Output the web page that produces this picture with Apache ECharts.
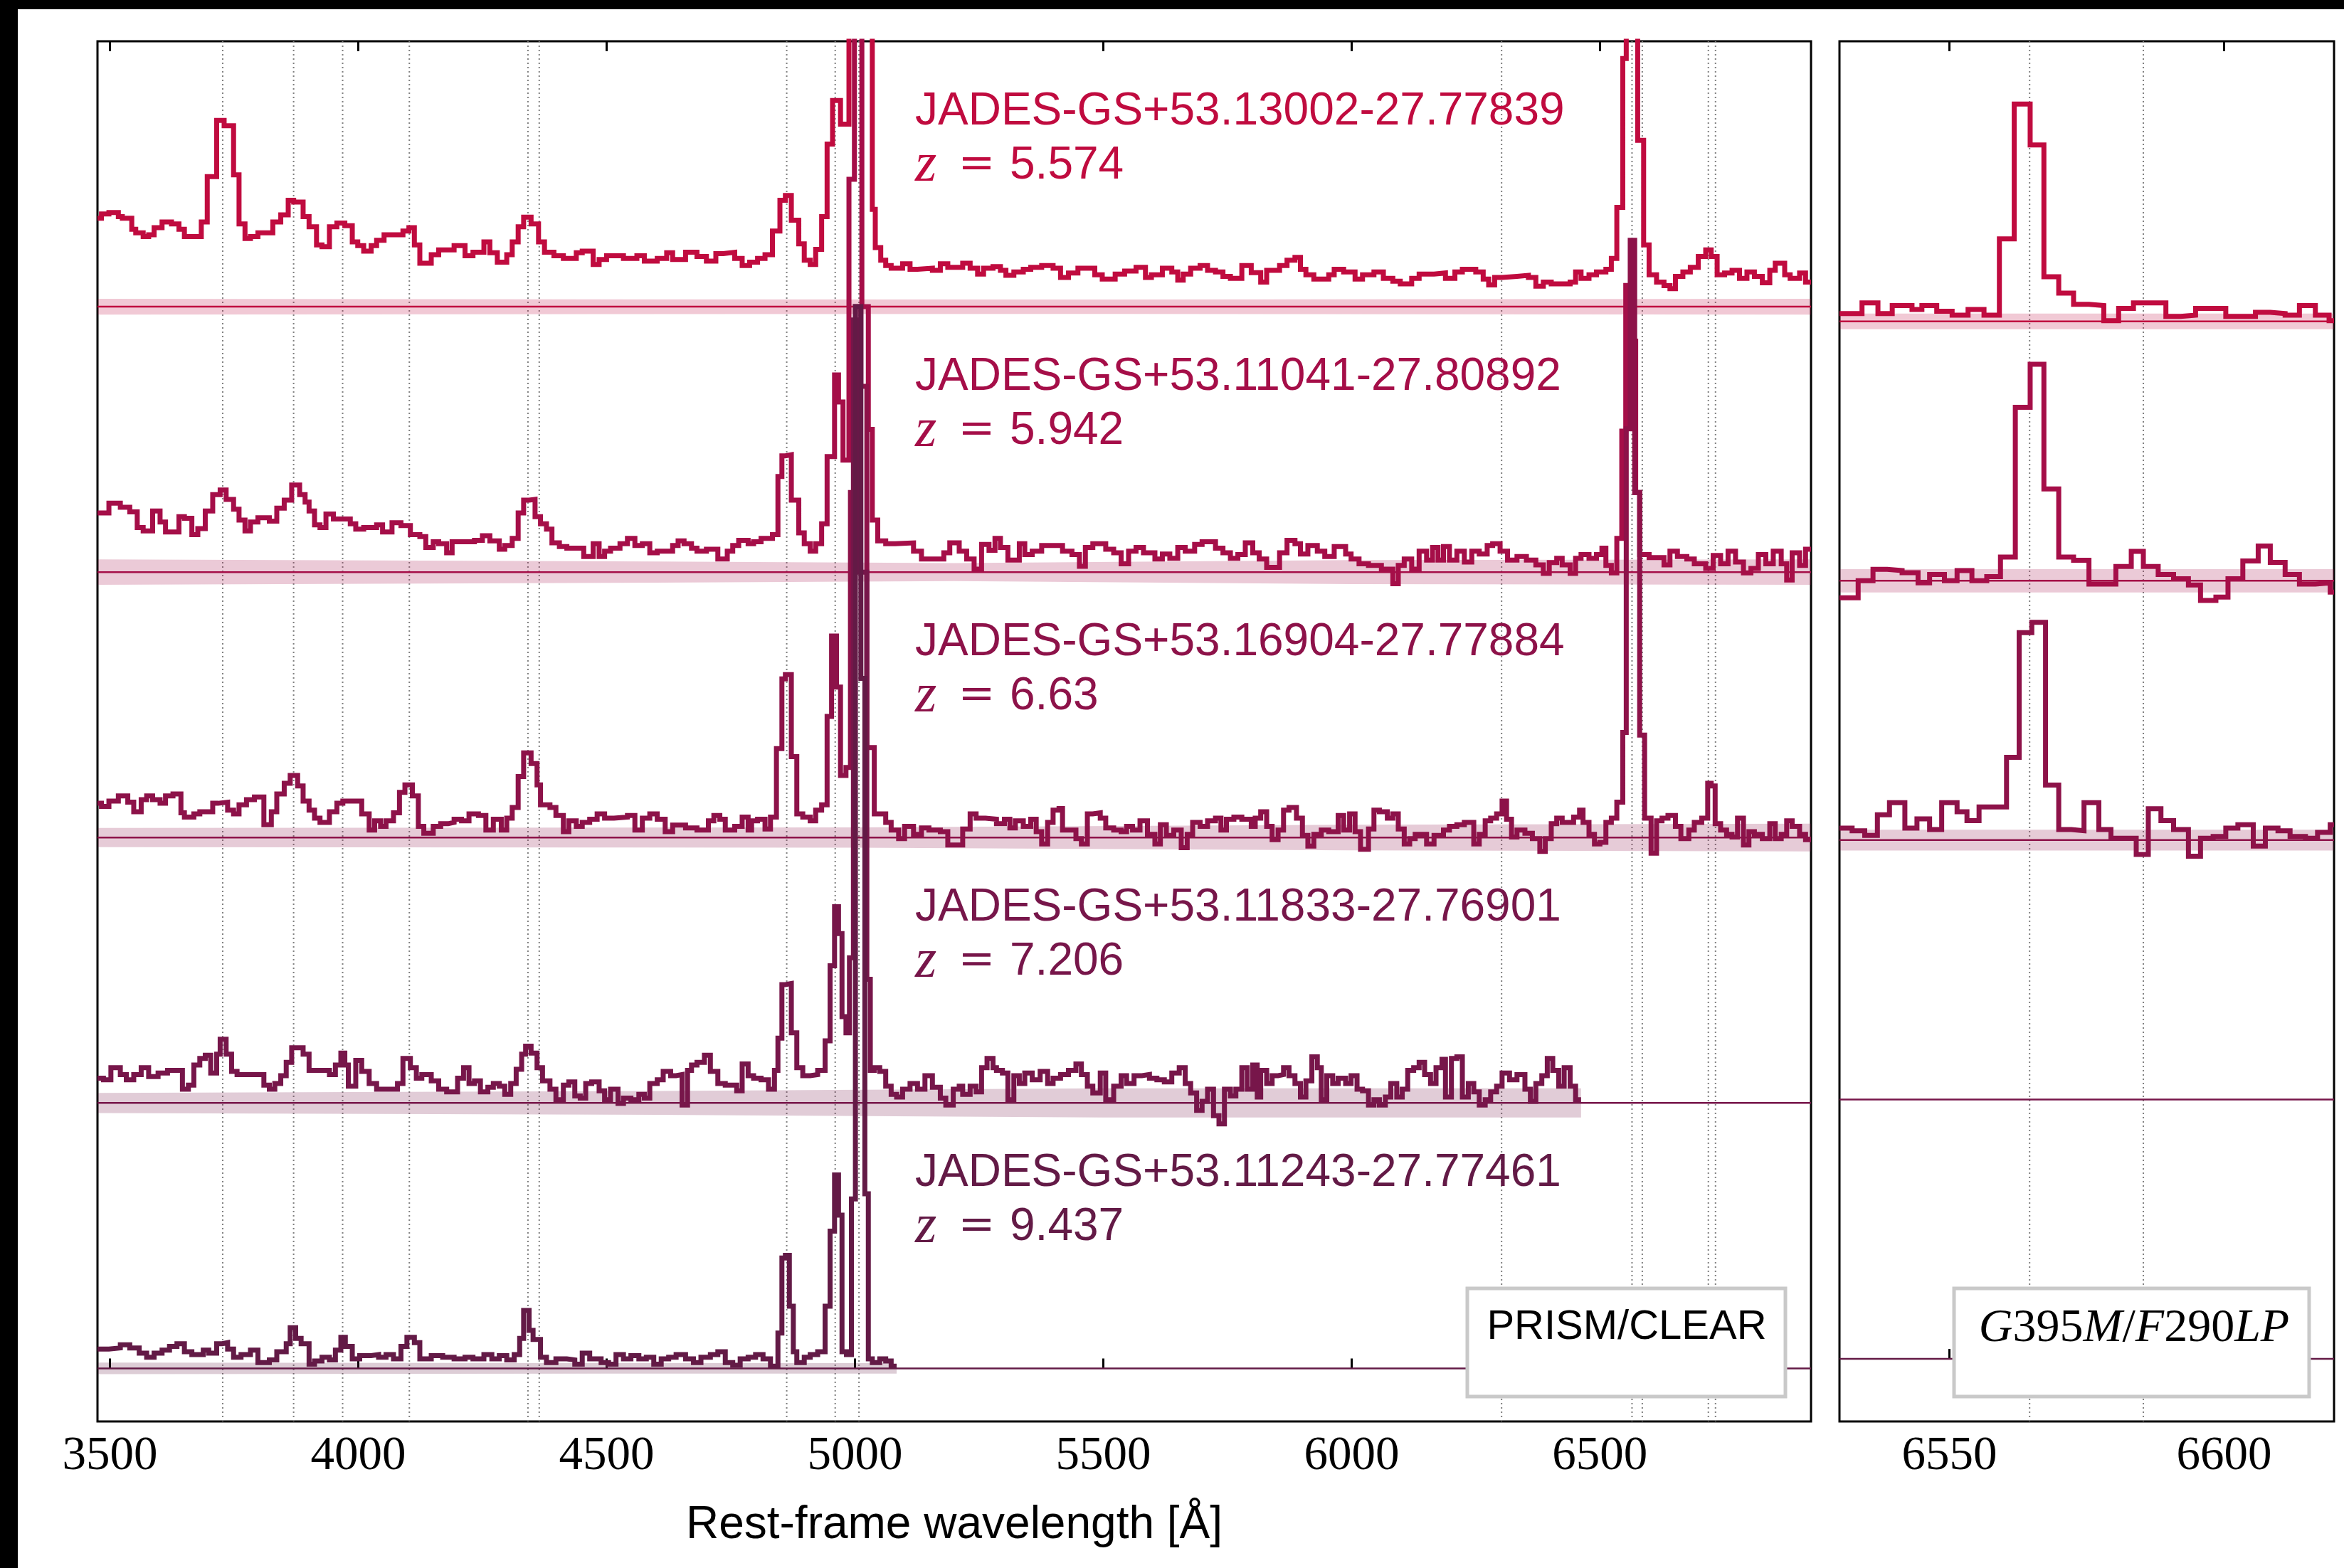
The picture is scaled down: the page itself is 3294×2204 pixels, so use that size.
<!DOCTYPE html>
<html>
<head>
<meta charset="utf-8">
<script src="https://cdn.jsdelivr.net/npm/echarts@6/dist/echarts.min.js"></script>
<style>
  html, body { margin: 0; padding: 0; background: #fff; }
  #chart { width: 3294px; height: 2204px; }
</style>
</head>
<body>
<div id="chart"></div>
<script>
// ---------------- data ----------------
// Object names and redshifts, top to bottom
const objectIds = [
  'JADES-GS+53.13002-27.77839',
  'JADES-GS+53.11041-27.80892',
  'JADES-GS+53.16904-27.77884',
  'JADES-GS+53.11833-27.76901',
  'JADES-GS+53.11243-27.77461'
];
const redshifts = ['5.574', '5.942', '6.63', '7.206', '9.437'];
// vertical offset of each normalised spectrum
const offsets = [4, 3, 2, 1, 0];

const mainTicks = [3500, 4000, 4500, 5000, 5500, 6000, 6500];
const sideTicks = [6550, 6600];

// rest-frame line positions [Å]
const prismLines = [3727.1, 3869.9, 3968.6, 4102.9, 4341.7, 4364.4, 4862.7, 4960.3, 5008.2,
                    6302.0, 6564.6, 6585.3, 6718.3, 6732.7];
const gratingLines = [6564.6, 6585.3];

// PRISM/CLEAR spectra: [left bin edge in Å, normalised flux]
const prismA = [[3475,0.333],[3483,0.349],[3498,0.355],[3517,0.339],[3525,0.333],[3544,0.292],[3552,0.278],[3567,0.264],[3578,0.271],[3589,0.298],[3605,0.319],[3624,0.312],[3639,0.292],[3650,0.264],[3684,0.319],[3696,0.490],[3715,0.702],[3730,0.682],[3749,0.497],[3760,0.312],[3772,0.257],[3783,0.264],[3798,0.278],[3828,0.319],[3844,0.346],[3859,0.401],[3870,0.394],[3889,0.339],[3901,0.301],[3916,0.233],[3927,0.226],[3942,0.301],[3957,0.315],[3973,0.305],[3988,0.244],[3999,0.230],[4011,0.209],[4026,0.230],[4037,0.250],[4052,0.271],[4090,0.285],[4102,0.298],[4113,0.233],[4124,0.164],[4147,0.196],[4162,0.214],[4193,0.230],[4215,0.192],[4231,0.205],[4253,0.244],[4265,0.203],[4280,0.168],[4299,0.196],[4310,0.244],[4322,0.301],[4333,0.337],[4348,0.312],[4363,0.244],[4375,0.205],[4394,0.192],[4413,0.182],[4439,0.203],[4451,0.209],[4473,0.159],[4485,0.178],[4500,0.192],[4534,0.182],[4561,0.192],[4576,0.172],[4602,0.182],[4621,0.203],[4633,0.178],[4659,0.205],[4682,0.189],[4701,0.172],[4720,0.200],[4735,0.205],[4758,0.182],[4773,0.155],[4788,0.168],[4804,0.182],[4819,0.196],[4834,0.285],[4849,0.401],[4860,0.419],[4872,0.326],[4887,0.237],[4898,0.175],[4910,0.159],[4921,0.216],[4933,0.339],[4944,0.613],[4955,0.777],[4971,0.688],[4988,1.8],[5001,3.0],[5016,2.0],[5035,0.367],[5041,0.223],[5052,0.175],[5062,0.155],[5073,0.145],[5096,0.162],[5111,0.141],[5126,0.145],[5156,0.137],[5172,0.162],[5187,0.148],[5217,0.164],[5232,0.145],[5247,0.123],[5259,0.145],[5278,0.151],[5293,0.137],[5304,0.118],[5320,0.131],[5339,0.141],[5354,0.148],[5376,0.155],[5399,0.145],[5414,0.110],[5430,0.127],[5449,0.145],[5483,0.120],[5498,0.104],[5524,0.123],[5543,0.134],[5566,0.148],[5585,0.110],[5597,0.120],[5619,0.145],[5638,0.131],[5650,0.100],[5661,0.123],[5676,0.145],[5695,0.155],[5710,0.137],[5726,0.131],[5741,0.114],[5756,0.107],[5779,0.155],[5798,0.128],[5817,0.093],[5829,0.137],[5855,0.155],[5870,0.175],[5886,0.186],[5897,0.141],[5908,0.120],[5924,0.104],[5954,0.120],[5965,0.141],[5984,0.131],[6007,0.104],[6022,0.120],[6045,0.131],[6064,0.107],[6083,0.096],[6098,0.086],[6121,0.107],[6136,0.123],[6166,0.127],[6189,0.107],[6208,0.131],[6223,0.141],[6250,0.131],[6265,0.104],[6276,0.082],[6288,0.110],[6303,0.114],[6333,0.118],[6356,0.110],[6371,0.077],[6386,0.093],[6402,0.086],[6440,0.093],[6451,0.131],[6462,0.107],[6478,0.120],[6493,0.131],[6512,0.141],[6523,0.182],[6534,0.374],[6546,0.935],[6553,3.0],[6565,2.5],[6576,0.627],[6588,0.233],[6599,0.120],[6614,0.093],[6629,0.079],[6641,0.068],[6652,0.114],[6667,0.131],[6682,0.148],[6698,0.189],[6713,0.214],[6724,0.189],[6736,0.120],[6751,0.127],[6766,0.137],[6781,0.107],[6796,0.131],[6811,0.114],[6827,0.090],[6842,0.137],[6853,0.164],[6872,0.120],[6883,0.107],[6902,0.127],[6914,0.093],[6925,0.093]];

const prismB = [[3475,0.223],[3498,0.260],[3521,0.244],[3540,0.227],[3555,0.168],[3567,0.155],[3586,0.230],[3601,0.189],[3612,0.151],[3639,0.209],[3650,0.203],[3665,0.141],[3677,0.164],[3692,0.230],[3707,0.292],[3722,0.309],[3734,0.274],[3749,0.237],[3760,0.196],[3772,0.155],[3783,0.189],[3798,0.205],[3821,0.192],[3836,0.241],[3851,0.271],[3866,0.328],[3882,0.292],[3893,0.264],[3901,0.230],[3912,0.178],[3923,0.168],[3935,0.219],[3950,0.200],[3984,0.182],[3995,0.162],[4011,0.168],[4037,0.178],[4049,0.151],[4068,0.186],[4086,0.175],[4105,0.141],[4124,0.134],[4136,0.093],[4151,0.114],[4162,0.107],[4178,0.073],[4189,0.114],[4234,0.120],[4250,0.137],[4265,0.118],[4284,0.086],[4295,0.100],[4310,0.127],[4322,0.223],[4333,0.271],[4344,0.274],[4356,0.209],[4367,0.182],[4379,0.162],[4390,0.110],[4405,0.096],[4420,0.090],[4454,0.059],[4473,0.107],[4485,0.059],[4496,0.079],[4508,0.090],[4527,0.107],[4542,0.127],[4557,0.100],[4572,0.107],[4587,0.073],[4602,0.079],[4633,0.100],[4644,0.118],[4656,0.107],[4671,0.090],[4682,0.079],[4701,0.086],[4724,0.049],[4743,0.079],[4754,0.100],[4766,0.120],[4785,0.107],[4796,0.114],[4811,0.127],[4834,0.141],[4845,0.360],[4853,0.438],[4860,0.442],[4872,0.271],[4887,0.148],[4898,0.107],[4910,0.079],[4921,0.107],[4933,0.182],[4944,0.435],[4959,0.743],[4967,0.641],[4976,0.422],[4988,1.48],[4999,2.4],[5014,1.0],[5027,0.538],[5035,0.196],[5046,0.118],[5062,0.107],[5081,0.110],[5118,0.079],[5134,0.049],[5179,0.073],[5191,0.110],[5210,0.079],[5225,0.049],[5240,0.011],[5255,0.104],[5270,0.082],[5282,0.127],[5293,0.093],[5308,0.045],[5331,0.107],[5342,0.066],[5357,0.079],[5376,0.100],[5418,0.079],[5437,0.066],[5452,0.022],[5464,0.093],[5479,0.107],[5505,0.086],[5521,0.073],[5536,0.031],[5551,0.079],[5566,0.093],[5581,0.073],[5604,0.049],[5619,0.068],[5634,0.052],[5650,0.093],[5665,0.079],[5684,0.104],[5699,0.114],[5726,0.090],[5741,0.073],[5756,0.052],[5771,0.066],[5786,0.110],[5801,0.073],[5814,0.049],[5829,0.018],[5855,0.073],[5870,0.120],[5886,0.107],[5897,0.068],[5912,0.100],[5931,0.079],[5946,0.059],[5965,0.096],[5988,0.068],[5999,0.049],[6015,0.031],[6034,0.025],[6060,0.011],[6083,-0.044],[6094,0.025],[6106,0.049],[6121,0.011],[6136,0.079],[6151,0.045],[6163,0.093],[6174,0.045],[6185,0.096],[6197,0.045],[6212,0.079],[6227,0.038],[6242,0.079],[6257,0.068],[6273,0.100],[6284,0.107],[6299,0.079],[6314,0.045],[6333,0.059],[6352,0.045],[6371,0.027],[6386,-0.005],[6398,0.036],[6413,0.052],[6424,0.027],[6440,-0.005],[6451,0.052],[6462,0.066],[6478,0.052],[6493,0.066],[6504,0.090],[6512,0.025],[6523,-0.003],[6534,0.127],[6544,0.531],[6552,1.08],[6561,0.87],[6572,0.30],[6580,0.066],[6599,0.055],[6629,0.027],[6641,0.079],[6656,0.059],[6675,0.049],[6690,0.031],[6713,0.014],[6728,0.063],[6743,0.031],[6758,0.079],[6773,0.038],[6789,-0.003],[6804,0.014],[6819,0.066],[6834,0.031],[6849,0.079],[6865,0.031],[6876,-0.030],[6887,0.073],[6902,0.025],[6914,0.086],[6925,0.086]];

const prismC = [[3475,0.129],[3483,0.117],[3498,0.137],[3517,0.157],[3536,0.133],[3548,0.097],[3563,0.143],[3574,0.157],[3586,0.143],[3601,0.129],[3612,0.157],[3627,0.164],[3643,0.093],[3650,0.077],[3669,0.089],[3681,0.097],[3707,0.129],[3718,0.133],[3737,0.103],[3749,0.089],[3760,0.123],[3775,0.143],[3791,0.153],[3810,0.048],[3825,0.097],[3836,0.164],[3851,0.204],[3863,0.234],[3878,0.194],[3889,0.137],[3901,0.103],[3912,0.073],[3923,0.057],[3942,0.097],[3957,0.129],[3969,0.137],[4007,0.089],[4022,0.028],[4033,0.063],[4045,0.042],[4056,0.063],[4071,0.093],[4083,0.170],[4094,0.198],[4109,0.157],[4121,0.042],[4132,0.016],[4151,0.042],[4166,0.052],[4181,0.057],[4193,0.069],[4208,0.063],[4223,0.089],[4242,0.083],[4257,0.028],[4272,0.069],[4288,0.028],[4299,0.073],[4310,0.113],[4322,0.230],[4333,0.319],[4348,0.279],[4360,0.198],[4367,0.123],[4386,0.113],[4398,0.083],[4413,0.022],[4424,0.063],[4439,0.042],[4451,0.057],[4466,0.069],[4481,0.089],[4496,0.073],[4515,0.077],[4542,0.083],[4557,0.028],[4572,0.073],[4587,0.089],[4602,0.069],[4618,0.022],[4633,0.047],[4659,0.036],[4682,0.028],[4705,0.063],[4716,0.083],[4728,0.069],[4739,0.028],[4758,0.042],[4773,0.077],[4785,0.028],[4792,0.063],[4804,0.069],[4819,0.032],[4830,0.077],[4842,0.335],[4853,0.598],[4860,0.614],[4872,0.305],[4883,0.089],[4895,0.077],[4910,0.063],[4921,0.103],[4933,0.123],[4944,0.456],[4953,0.759],[4963,0.567],[4971,0.234],[4982,0.264],[4991,1.3],[5001,2.0],[5012,1.7],[5024,0.339],[5039,0.089],[5062,0.057],[5073,0.028],[5088,-0.004],[5100,0.042],[5118,0.012],[5134,0.036],[5149,0.028],[5172,0.022],[5187,-0.028],[5217,0.032],[5232,0.089],[5244,0.073],[5263,0.069],[5285,0.052],[5301,0.069],[5312,0.036],[5323,0.063],[5339,0.042],[5354,0.069],[5365,0.022],[5376,-0.024],[5388,0.057],[5399,0.103],[5411,0.109],[5418,0.028],[5445,-0.004],[5456,-0.024],[5468,0.089],[5479,0.093],[5494,0.073],[5505,0.036],[5521,0.028],[5536,0.022],[5547,0.042],[5559,0.028],[5574,0.063],[5589,0.012],[5604,-0.024],[5615,0.048],[5627,0.008],[5642,0.028],[5657,-0.038],[5669,0.012],[5680,0.057],[5695,0.042],[5710,0.063],[5726,0.073],[5737,0.028],[5748,0.069],[5763,0.077],[5779,0.069],[5798,0.042],[5806,0.073],[5817,0.097],[5829,0.042],[5840,-0.008],[5852,0.028],[5863,0.103],[5874,0.113],[5889,0.073],[5901,0.008],[5912,-0.032],[5924,0.012],[5939,0.028],[5954,0.022],[5973,0.083],[5984,0.028],[5996,0.089],[6007,0.022],[6018,-0.044],[6034,0.032],[6045,0.103],[6056,0.097],[6072,0.073],[6083,0.089],[6094,0.032],[6106,-0.024],[6117,-0.004],[6128,0.012],[6151,-0.024],[6166,0.008],[6185,0.028],[6197,0.042],[6212,0.048],[6227,0.057],[6246,-0.024],[6257,0.012],[6269,0.063],[6280,0.073],[6292,0.089],[6303,0.137],[6312,0.069],[6322,0.002],[6333,0.028],[6349,0.016],[6364,-0.004],[6379,-0.052],[6390,-0.004],[6402,0.052],[6413,0.073],[6424,0.057],[6447,0.077],[6459,0.103],[6466,0.057],[6478,0.012],[6489,-0.024],[6500,-0.018],[6512,0.057],[6523,0.073],[6534,0.133],[6546,0.396],[6553,1.54],[6561,2.25],[6570,1.30],[6580,0.386],[6590,0.073],[6603,-0.059],[6614,0.063],[6625,0.073],[6637,0.083],[6652,0.042],[6663,-0.004],[6679,0.028],[6690,0.057],[6705,0.073],[6717,0.204],[6724,0.194],[6732,0.052],[6743,0.028],[6755,0.012],[6766,0.002],[6777,0.073],[6789,-0.028],[6800,0.022],[6811,0.012],[6827,-0.004],[6842,0.052],[6853,-0.004],[6865,0.012],[6876,0.063],[6887,0.042],[6902,0.012],[6914,-0.008],[6925,-0.008]];

const prismD = [[3475,0.093],[3487,0.087],[3502,0.133],[3521,0.107],[3533,0.087],[3548,0.107],[3563,0.133],[3578,0.099],[3597,0.113],[3616,0.123],[3646,0.052],[3658,0.067],[3669,0.143],[3681,0.168],[3692,0.180],[3703,0.113],[3715,0.184],[3722,0.240],[3734,0.184],[3745,0.119],[3756,0.107],[3810,0.067],[3821,0.052],[3832,0.073],[3844,0.103],[3855,0.153],[3866,0.208],[3889,0.184],[3901,0.123],[3942,0.107],[3954,0.143],[3965,0.188],[3973,0.143],[3980,0.063],[3995,0.160],[4007,0.119],[4022,0.073],[4037,0.052],[4079,0.073],[4090,0.168],[4105,0.133],[4117,0.093],[4128,0.107],[4147,0.083],[4162,0.052],[4178,0.042],[4200,0.093],[4212,0.133],[4223,0.073],[4234,0.083],[4246,0.042],[4261,0.059],[4272,0.073],[4284,0.063],[4295,0.032],[4307,0.073],[4318,0.127],[4329,0.184],[4337,0.214],[4348,0.188],[4360,0.133],[4371,0.083],[4386,0.052],[4398,0.012],[4413,0.067],[4424,0.079],[4436,0.026],[4447,0.018],[4458,0.073],[4470,0.079],[4485,0.046],[4496,0.012],[4508,0.052],[4523,-0.002],[4534,0.018],[4549,0.012],[4565,0.032],[4576,0.018],[4587,0.073],[4602,0.087],[4614,0.119],[4629,0.103],[4640,0.107],[4652,-0.008],[4663,0.123],[4671,0.143],[4682,0.153],[4697,0.180],[4709,0.119],[4724,0.073],[4739,0.067],[4762,0.046],[4773,0.147],[4785,0.103],[4796,0.093],[4811,0.087],[4826,0.052],[4838,0.123],[4845,0.244],[4853,0.446],[4860,0.450],[4872,0.264],[4883,0.133],[4895,0.103],[4910,0.107],[4925,0.123],[4940,0.234],[4950,0.517],[4959,0.739],[4967,0.638],[4974,0.325],[4982,0.264],[4989,0.547],[4997,2.95],[5008,2.0],[5024,0.466],[5031,0.123],[5039,0.133],[5050,0.119],[5062,0.063],[5073,0.032],[5084,0.022],[5096,0.052],[5111,0.073],[5126,0.052],[5141,0.103],[5156,0.059],[5172,0.018],[5183,-0.008],[5198,0.052],[5210,0.063],[5217,0.032],[5232,0.063],[5244,0.042],[5255,0.133],[5266,0.168],[5278,0.133],[5285,0.123],[5297,0.113],[5308,0.012],[5320,0.103],[5331,0.073],[5342,0.113],[5357,0.087],[5373,0.119],[5388,0.073],[5399,0.093],[5414,0.107],[5430,0.123],[5445,0.147],[5456,0.107],[5468,0.063],[5479,0.038],[5494,0.113],[5505,0.012],[5521,0.063],[5536,0.103],[5547,0.073],[5562,0.103],[5578,0.107],[5593,0.093],[5608,0.087],[5623,0.079],[5638,0.113],[5653,0.133],[5665,0.073],[5676,0.038],[5688,-0.028],[5699,0.006],[5710,0.052],[5722,-0.048],[5733,-0.079],[5744,0.052],[5756,0.026],[5767,0.052],[5779,0.133],[5790,0.052],[5801,0.143],[5810,0.022],[5817,0.123],[5829,0.073],[5840,0.103],[5852,0.107],[5863,0.133],[5874,0.103],[5886,0.073],[5897,0.022],[5908,0.083],[5920,0.174],[5931,0.133],[5939,0.012],[5950,0.103],[5962,0.073],[5973,0.093],[5988,0.073],[5999,0.103],[6011,0.052],[6022,0.046],[6034,-0.008],[6045,0.012],[6056,-0.008],[6068,0.022],[6079,0.073],[6091,0.022],[6102,0.052],[6113,0.123],[6125,0.133],[6136,0.153],[6147,0.107],[6159,0.073],[6170,0.133],[6182,0.164],[6189,0.022],[6201,0.168],[6212,0.174],[6223,0.022],[6235,0.073],[6246,0.042],[6257,-0.008],[6269,0.012],[6280,0.042],[6292,0.063],[6303,0.113],[6318,0.087],[6333,0.107],[6349,0.052],[6360,0.006],[6371,0.073],[6383,0.103],[6394,0.168],[6405,0.123],[6417,0.063],[6428,0.133],[6440,0.063],[6451,0.012],[6462,0.012]];

const prismE = [[3475,0.073],[3498,0.077],[3521,0.089],[3540,0.077],[3559,0.057],[3574,0.042],[3589,0.057],[3605,0.069],[3620,0.083],[3635,0.093],[3650,0.063],[3665,0.052],[3688,0.069],[3699,0.057],[3715,0.093],[3726,0.097],[3737,0.073],[3749,0.042],[3764,0.052],[3783,0.069],[3798,0.022],[3821,0.032],[3836,0.063],[3855,0.093],[3863,0.153],[3874,0.113],[3885,0.093],[3901,0.016],[3912,0.028],[3927,0.042],[3942,0.032],[3954,0.069],[3965,0.117],[3974,0.083],[3988,0.036],[4003,0.048],[4026,0.052],[4041,0.042],[4056,0.052],[4071,0.036],[4086,0.083],[4098,0.117],[4113,0.097],[4124,0.036],[4147,0.048],[4170,0.042],[4193,0.036],[4215,0.042],[4231,0.036],[4253,0.052],[4269,0.036],[4284,0.048],[4299,0.032],[4314,0.052],[4325,0.113],[4333,0.218],[4344,0.143],[4352,0.109],[4367,0.042],[4379,0.022],[4398,0.036],[4420,0.032],[4436,0.016],[4451,0.057],[4466,0.036],[4489,0.022],[4504,0.016],[4519,0.052],[4534,0.036],[4549,0.048],[4565,0.036],[4580,0.042],[4595,0.016],[4610,0.036],[4625,0.042],[4640,0.052],[4659,0.036],[4675,0.022],[4690,0.042],[4709,0.052],[4724,0.063],[4739,0.022],[4754,0.012],[4769,0.036],[4785,0.042],[4800,0.052],[4815,0.036],[4830,0.008],[4845,0.133],[4853,0.416],[4860,0.426],[4868,0.234],[4876,0.063],[4883,0.022],[4898,0.042],[4910,0.052],[4925,0.063],[4940,0.234],[4950,0.517],[4959,0.729],[4967,0.577],[4974,0.063],[4983,0.052],[4993,0.638],[5001,4.0],[5012,2.6],[5020,0.658],[5027,0.036],[5035,0.022],[5050,0.036],[5062,0.028],[5073,0.008],[5084,0.008]];

// G395M/F290LP spectra around H-alpha (first three objects only)
const gratingA = [[6530,0.030],[6534.1,0.071],[6537.0,0.030],[6539.6,0.061],[6543.2,0.046],[6545.0,0.061],[6547.7,0.039],[6550.5,0.024],[6553.4,0.046],[6556.3,0.024],[6559.1,0.318],[6561.8,0.838],[6564.7,0.680],[6567.2,0.172],[6569.9,0.109],[6572.6,0.066],[6575.4,0.061],[6578.1,0.003],[6580.8,0.050],[6583.5,0.071],[6586.2,0.071],[6589.4,0.019],[6592.1,0.024],[6594.8,0.050],[6597.6,0.050],[6600.3,0.019],[6603.0,0.019],[6605.7,0.035],[6608.4,0.030],[6611.1,0.024],[6613.7,0.061],[6616.6,0.024],[6619.1,0.003],[6620,0.003]];
const gratingB = [[6530,-0.066],[6533.4,0.000],[6536.1,0.044],[6538.7,0.039],[6541.4,0.031],[6544.3,-0.008],[6546.4,0.024],[6549.1,0.000],[6551.4,0.039],[6554.1,0.000],[6556.8,0.016],[6559.3,0.091],[6562.0,0.669],[6564.7,0.835],[6567.2,0.354],[6569.9,0.091],[6572.6,0.079],[6575.4,-0.013],[6580.3,0.055],[6583.1,0.113],[6585.3,0.055],[6588.0,0.024],[6590.8,0.008],[6593.5,-0.016],[6595.7,-0.076],[6598.5,-0.063],[6600.7,0.008],[6603.4,0.076],[6606.2,0.134],[6608.4,0.071],[6611.1,0.024],[6613.7,-0.013],[6616.6,-0.008],[6619.3,-0.044],[6620,-0.044]];
const gratingC = [[6530,0.046],[6532.3,0.036],[6534.6,0.018],[6536.9,0.098],[6539.1,0.144],[6541.9,0.046],[6544.1,0.082],[6546.4,0.041],[6548.6,0.144],[6551.4,0.109],[6553.2,0.075],[6555.4,0.128],[6560.4,0.319],[6562.7,0.80],[6565.0,0.84],[6567.5,0.212],[6569.9,0.041],[6572.2,0.036],[6574.5,0.144],[6577.2,0.041],[6579.4,0.007],[6584.0,-0.055],[6586.2,0.121],[6588.5,0.075],[6590.8,0.041],[6593.5,-0.062],[6595.7,0.007],[6598.0,0.014],[6600.3,0.046],[6602.5,0.059],[6605.3,-0.023],[6607.5,0.046],[6609.8,0.036],[6612.0,0.014],[6614.8,0.007],[6617.0,0.030],[6619.3,0.059],[6620,0.059]];

// 1-sigma noise level: [wavelength, sigma]
const prismErrA = [[3475,0.030],[4500,0.028],[5500,0.027],[6925,0.030]];
const prismErrB = [[3475,0.048],[4600,0.040],[5200,0.034],[6000,0.045],[6925,0.048]];
const prismErrC = [[3475,0.036],[5000,0.038],[6000,0.048],[6925,0.052]];
const prismErrD = [[3475,0.038],[4600,0.045],[5500,0.055],[6462,0.055]];
const prismErrE = [[3475,0.022],[4500,0.020],[5084,0.020]];
const gratingErrA = [[6530,0.030],[6620,0.030]];
const gratingErrB = [[6530,0.045],[6620,0.045]];
const gratingErrC = [[6530,0.040],[6620,0.040]];

// ---------------- layout & style ----------------
const colors = ['#C00B3F', '#A50E48', '#8D1249', '#77164A', '#631A46'];
const bandAlpha = 0.22;
const MAIN = { left: 137, top: 58, width: 2408, height: 1940 };
const SIDE = { left: 2585, top: 58, width: 695, height: 1940 };
const mainRange = { xmin: 3475, xmax: 6925, ymin: -0.2, ymax: 5.0 };
const sideRange = { xmin: 6530, xmax: 6620, ymin: -0.2414, ymax: 5.08 };

function hexToRgba(hex, a) {
  const n = parseInt(hex.slice(1), 16);
  return `rgba(${(n >> 16) & 255},${(n >> 8) & 255},${n & 255},${a})`;
}
function mainY(v) {
  return MAIN.top + (mainRange.ymax - v) / (mainRange.ymax - mainRange.ymin) * MAIN.height;
}

function stepSeries(pts, offset, color, xi, yi, z) {
  return {
    type: 'line', xAxisIndex: xi, yAxisIndex: yi, step: 'end', symbol: 'none',
    clip: true, silent: true, animation: false, z: z,
    data: pts.map(p => [p[0], p[1] + offset]),
    lineStyle: { color: color, width: 7, join: 'miter' }
  };
}
function zeroSeries(offset, color, xi, yi, range) {
  return {
    type: 'line', xAxisIndex: xi, yAxisIndex: yi, symbol: 'none', silent: true,
    animation: false, z: 3,
    data: [[range.xmin, offset], [range.xmax, offset]],
    lineStyle: { color: color, width: 2.5 }
  };
}
function bandSeries(knots, offset, color, xi, yi) {
  return {
    type: 'custom', xAxisIndex: xi, yAxisIndex: yi, coordinateSystem: 'cartesian2d',
    silent: true, animation: false, z: 2, clip: true,
    data: knots.map(k => [k[0], offset - k[1], offset + k[1]]),
    encode: { x: 0, y: [1, 2] },
    renderItem(params, api) {
      if (params.dataIndex !== 0) return { type: 'group', children: [] };
      const upper = knots.map(k => api.coord([k[0], offset + k[1]]));
      const lower = knots.slice().reverse().map(k => api.coord([k[0], offset - k[1]]));
      return { type: 'polygon', shape: { points: upper.concat(lower) },
               style: { fill: hexToRgba(color, bandAlpha) } };
    }
  };
}
function guideSeries(values, xi, yi, range) {
  return {
    type: 'custom', xAxisIndex: xi, yAxisIndex: yi, coordinateSystem: 'cartesian2d',
    silent: true, animation: false, z: 1,
    data: values.map(v => [v, range.ymin]),
    encode: { x: 0, y: 1 },
    renderItem(params, api) {
      const x = api.value(0);
      const p0 = api.coord([x, range.ymin]);
      const p1 = api.coord([x, range.ymax]);
      return { type: 'line', shape: { x1: p0[0], y1: p0[1], x2: p1[0], y2: p1[1] },
               style: { stroke: '#808080', lineWidth: 2, lineDash: [2, 4] } };
    }
  };
}

function xAxisPair(gridIndex, range, ticks, withName) {
  const tick = { show: true, inside: true, length: 14, customValues: ticks,
                 lineStyle: { color: '#000', width: 3 } };
  const bottom = {
    type: 'value', gridIndex, position: 'bottom', min: range.xmin, max: range.xmax,
    axisLine: { show: false }, splitLine: { show: false },
    axisTick: tick,
    axisLabel: { show: true, customValues: ticks, margin: 16, color: '#000',
                 fontFamily: 'Liberation Serif', fontSize: 67,
                 formatter: v => String(v) }
  };
  if (withName) {
    Object.assign(bottom, {
      name: 'Rest-frame wavelength [Å]', nameLocation: 'middle', nameGap: 114,
      nameTextStyle: { fontFamily: 'Liberation Sans', fontSize: 64, color: '#000' }
    });
  }
  const top = {
    type: 'value', gridIndex, position: 'top', min: range.xmin, max: range.xmax,
    axisLine: { show: false }, splitLine: { show: false },
    axisTick: tick, axisLabel: { show: false }
  };
  return [bottom, top];
}
function yAxisFor(gridIndex, range) {
  return {
    type: 'value', gridIndex, min: range.ymin, max: range.ymax,
    axisLine: { show: false }, axisTick: { show: false },
    axisLabel: { show: false }, splitLine: { show: false }
  };
}

// ---------------- series ----------------
const prismSpectra = [prismA, prismB, prismC, prismD, prismE];
const prismErrors = [prismErrA, prismErrB, prismErrC, prismErrD, prismErrE];
const gratingSpectra = [gratingA, gratingB, gratingC];
const gratingErrors = [gratingErrA, gratingErrB, gratingErrC];

const series = [];
series.push(guideSeries(prismLines, 0, 0, mainRange));
series.push(guideSeries(gratingLines, 2, 1, sideRange));
for (let i = 0; i < 5; i++) {
  series.push(bandSeries(prismErrors[i], offsets[i], colors[i], 0, 0));
  series.push(zeroSeries(offsets[i], colors[i], 0, 0, mainRange));
  series.push(zeroSeries(offsets[i], colors[i], 2, 1, sideRange));
  if (i < 3) series.push(bandSeries(gratingErrors[i], offsets[i], colors[i], 2, 1));
}
for (let i = 0; i < 5; i++) {
  series.push(stepSeries(prismSpectra[i], offsets[i], colors[i], 0, 0, 4 + i));
  if (i < 3) series.push(stepSeries(gratingSpectra[i], offsets[i], colors[i], 2, 1, 4 + i));
}

// ---------------- annotations ----------------
const graphics = [
  { type: 'rect', z: 100, shape: { x: 0, y: 0, width: 25, height: 2204 }, style: { fill: '#000' } },
  { type: 'rect', z: 100, shape: { x: 0, y: 0, width: 3294, height: 13 }, style: { fill: '#000' } },
  // legend boxes
  { type: 'rect', z: 50, shape: { x: 2062, y: 1811, width: 447, height: 152 },
    style: { fill: '#fff', stroke: '#c9c9c9', lineWidth: 5 } },
  { type: 'text', z: 51, x: 2286, y: 1866,
    style: { text: 'PRISM/CLEAR', fill: '#000', align: 'center', verticalAlign: 'middle',
             fontFamily: 'Liberation Sans', fontSize: 58 } },
  { type: 'rect', z: 50, shape: { x: 2746, y: 1811, width: 499, height: 152 },
    style: { fill: '#fff', stroke: '#c9c9c9', lineWidth: 5 } },
  { type: 'text', z: 51, x: 2999, y: 1868,
    style: { text: '{i|G}{r|395}{i|M}{r|/}{i|F}{r|290}{i|LP}', fill: '#000',
             align: 'center', verticalAlign: 'middle',
             rich: {
               i: { fontFamily: 'Liberation Serif', fontStyle: 'italic', fontSize: 66, fill: '#000' },
               r: { fontFamily: 'Liberation Serif', fontSize: 66, fill: '#000' }
             } } }
];
for (let i = 0; i < 5; i++) {
  const base = mainY(offsets[i]);
  graphics.push({
    type: 'text', z: 20, x: 1286, y: base - 274,
    style: { text: objectIds[i], fill: colors[i], align: 'left', verticalAlign: 'middle',
             fontFamily: 'Liberation Sans', fontSize: 64 }
  });
  graphics.push({
    type: 'text', z: 20, x: 1286, y: base - 198,
    style: {
      text: '{z|z}{eq|=}{n|' + redshifts[i] + '}', fill: colors[i],
      align: 'left', verticalAlign: 'middle',
      rich: {
        z: { fontFamily: 'Liberation Serif', fontStyle: 'italic', fontSize: 78, fill: colors[i], width: 40 },
        eq: { fontFamily: 'DejaVu Serif', fontSize: 62, fill: colors[i], width: 93, align: 'center' },
        n: { fontFamily: 'Liberation Sans', fontSize: 64, fill: colors[i] }
      }
    }
  });
}

// ---------------- chart ----------------
const chart = echarts.init(document.getElementById('chart'), null, { renderer: 'canvas' });
chart.setOption({
  backgroundColor: '#fff',
  animation: false,
  grid: [
    Object.assign({ show: true, borderColor: '#000', borderWidth: 3, backgroundColor: 'transparent' }, MAIN),
    Object.assign({ show: true, borderColor: '#000', borderWidth: 3, backgroundColor: 'transparent' }, SIDE)
  ],
  xAxis: [...xAxisPair(0, mainRange, mainTicks, true), ...xAxisPair(1, sideRange, sideTicks, false)],
  yAxis: [yAxisFor(0, mainRange), yAxisFor(1, sideRange)],
  series: series,
  graphic: graphics
});
</script>
</body>
</html>
